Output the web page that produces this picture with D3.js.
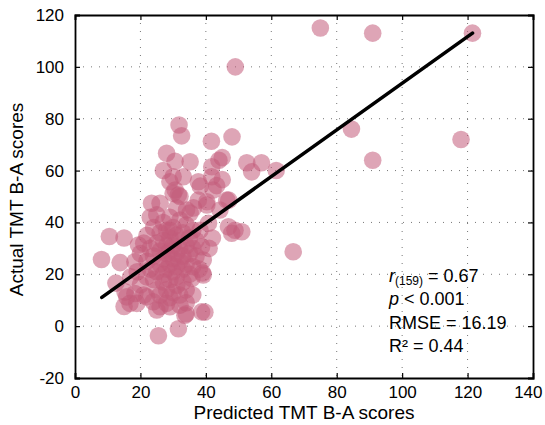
<!DOCTYPE html>
<html>
<head>
<meta charset="utf-8">
<script src="https://cdn.jsdelivr.net/npm/d3@7"></script>
<style>
  body { margin: 0; background: #fff; }
  svg { display: block; font-family: Arial, "Liberation Sans", sans-serif; }
</style>
</head>
<body>
<svg id="chart" width="545" height="425"></svg>
<script>
// predicted vs actual TMT B-A scores (n = 161)
const predicted = [
  75, 91, 121.5, 49, 84.5, 118, 91, 48, 61.5, 57, 54, 52.5, 45, 44, 45, 47, 66.7, 39, 39.7,
  31.8, 32.6, 41.7, 28, 30.6, 35.2, 41.8, 27, 33.1, 29, 37.7, 38.3, 43.3, 31.6, 30.6, 37.7, 46.4, 23.4, 26, 25, 40.3, 44.3, 46.9, 48.9, 10.5, 15, 34.1, 36.2, 32.1, 29,
  41.8, 30, 42.2, 32.1, 40.3, 35.2, 47.9, 51, 40.8, 38.2, 38.7, 39.2, 31.1, 19.4, 8.1, 13.8, 18.3, 30,
  12.5, 15.3, 15, 16.8, 18.3, 25.5, 31.6, 21.9, 21.9, 26, 28, 23.9, 34, 15.8, 18.9, 25, 29, 38.7, 33.6, 32.1, 39.2, 35.7, 31.1,
  20, 21, 22, 22, 23, 23, 24, 24, 24, 25, 25, 25, 26, 26, 26, 26, 27, 27, 27, 27, 27, 28, 28, 28, 28, 28,
  29, 29, 29, 29, 29, 29, 30, 30, 30, 30, 30, 31, 31, 31, 31, 32, 32, 32, 32, 33, 33, 33, 33, 34, 34, 34, 34,
  35, 35, 35, 36, 36, 36, 37, 37, 38, 19, 20, 21, 17, 23, 41, 42, 36, 34
];
const actual = [
  115, 113, 113, 100, 76, 72, 64, 73, 60, 63, 59.5, 63, 65, 64, 56.5, 48.6, 28.7, 20.5, 5.4,
  77.6, 73.4, 71.3, 66.7, 63.6, 63.4, 61.5, 60, 57.6, 55.7, 55.7, 54, 54.2, 50.6, 52.5, 48.6, 48.6, 47.4, 47.4, 42.9, 48, 44.8, 38.3, 37, 34.6, 34, 44.8, 45.6, 40.9, 37,
  57.6, 57.6, 52.5, 50, 46.7, 43.6, 35.8, 36.4, 39.7, 37, 30.6, 25.5, 45.6, 31.3, 25.7, 24.5, 24.8, 51.2,
  16.6, 13.2, 7.6, 8.8, 12.6, -3.7, -1, 19, 11.3, 7.5, 8.8, 9.4, 4.8, 11.3, 8.8, 6.2, 7.5, 5.5, 4.2, 8.1, 19.7, 18.4, 15.8,
  28, 32, 25, 35, 22, 30, 18, 27, 38, 14, 21, 32, 12, 24, 29, 36, 17, 20, 26, 33, 40, 14, 22, 28, 31, 37,
  11, 18, 24, 29, 34, 42, 13, 21, 26, 31, 38, 19, 23, 28, 35, 12, 25, 30, 33, 17, 22, 27, 36, 14, 24, 31, 39,
  20, 28, 34, 23, 30, 37, 27, 33, 22, 21, 16, 12, 19, 42, 30, 34, 12, 9
];

// regression line end points
const fitX = [8.2, 121.5];
const fitY = [11.1, 113];

const xTicks = [0, 20, 40, 60, 80, 100, 120, 140];
const yTicks = [-20, 0, 20, 40, 60, 80, 100, 120];

const stats = [
  { main: 'r', sub: '(159)', rest: ' = 0.67', italic: true },
  { main: 'p', sub: '', rest: ' < 0.001', italic: true },
  { main: 'RMSE', sub: '', rest: ' = 16.19', italic: false },
  { main: 'R²', sub: '', rest: ' = 0.44', italic: false }
];

const width = 545, height = 425;
const margin = { top: 15, right: 12, bottom: 47, left: 75 };
const w = width - margin.left - margin.right;
const h = height - margin.top - margin.bottom;

const svg = d3.select('#chart');
const g = svg.append('g').attr('transform', `translate(${margin.left},${margin.top})`);

const x = d3.scaleLinear().domain([0, 140]).range([0, w]);
const y = d3.scaleLinear().domain([-20, 120]).range([h, 0]);

// dotted grid
g.append('g').selectAll('line')
  .data(xTicks.slice(1, -1))
  .join('line')
  .attr('x1', d => x(d)).attr('x2', d => x(d))
  .attr('y1', 0).attr('y2', h)
  .attr('stroke', '#777').attr('stroke-width', 1)
  .attr('stroke-dasharray', '1,7');

g.append('g').selectAll('line')
  .data(yTicks.slice(1, -1))
  .join('line')
  .attr('y1', d => y(d)).attr('y2', d => y(d))
  .attr('x1', 0).attr('x2', w)
  .attr('stroke', '#777').attr('stroke-width', 1)
  .attr('stroke-dasharray', '1,7');

// points
const pts = predicted.map((p, i) => ({ p, a: actual[i] }));
g.append('g').selectAll('circle')
  .data(pts)
  .join('circle')
  .attr('cx', d => x(d.p))
  .attr('cy', d => y(d.a))
  .attr('r', 8.8)
  .attr('fill', '#c25b7a')
  .attr('fill-opacity', 0.55);

// regression line
g.append('line')
  .attr('x1', x(fitX[0])).attr('y1', y(fitY[0]))
  .attr('x2', x(fitX[1])).attr('y2', y(fitY[1]))
  .attr('stroke', '#000').attr('stroke-width', 3.6)
  .attr('stroke-linecap', 'round');

// axes with inward ticks on all four sides
const plain = d => String(d); // keep the ascii hyphen for -20
const tickFont = a => a.selectAll('text').attr('font-size', 17).attr('fill', '#000')
  .attr('font-family', 'Arial, "Liberation Sans", sans-serif');

const xAxis = g.append('g').attr('transform', `translate(0,${h})`)
  .call(d3.axisBottom(x).tickValues(xTicks).tickSize(-5).tickPadding(8).tickFormat(plain))
  .call(tickFont);
// last label sits against the window edge
xAxis.selectAll('.tick text').filter(d => d === 140).attr('text-anchor', 'end').attr('x', 9);

g.append('g')
  .call(d3.axisLeft(y).tickValues(yTicks).tickSize(-5).tickPadding(11).tickFormat(plain))
  .call(tickFont);

g.append('g')
  .call(d3.axisTop(x).tickValues(xTicks).tickSize(-5).tickFormat(''));

g.append('g').attr('transform', `translate(${w},0)`)
  .call(d3.axisRight(y).tickValues(yTicks).tickSize(-5).tickFormat(''));

g.selectAll('.domain').attr('stroke', '#000').attr('stroke-width', 1.8);
g.selectAll('.tick line').attr('stroke', '#000').attr('stroke-width', 1.2);

// axis titles
svg.append('text')
  .attr('x', margin.left + w / 2)
  .attr('y', 419)
  .attr('text-anchor', 'middle')
  .attr('font-size', 19)
  .text('Predicted TMT B-A scores');

svg.append('text')
  .attr('transform', `translate(23,${margin.top + h / 2 + 3}) rotate(-90)`)
  .attr('text-anchor', 'middle')
  .attr('font-size', 19)
  .text('Actual TMT B-A scores');

// stats block
const st = svg.append('g').attr('font-size', 18);
stats.forEach((s, i) => {
  const t = st.append('text').attr('x', 389).attr('y', 282 + i * 23.3);
  t.append('tspan').attr('font-style', s.italic ? 'italic' : 'normal').text(s.main);
  if (s.sub) t.append('tspan').attr('font-size', 12).attr('dy', 3).text(s.sub);
  t.append('tspan').attr('dy', s.sub ? -3 : 0).text(s.rest);
});
</script>
</body>
</html>
